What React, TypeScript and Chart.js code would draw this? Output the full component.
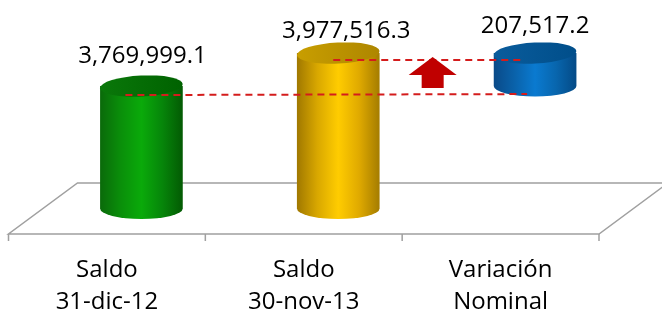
import React, { useEffect, useRef } from "react";
import { Chart, registerables } from "chart.js";

Chart.register(...registerables);

// ---- data ----
const categoryLines: string[][] = [
  ["Saldo", "31-dic-12"],
  ["Saldo", "30-nov-13"],
  ["Variación", "Nominal"],
];
const saldoInicial = 3769999.1;
const saldoFinal = 3977516.3;
const variacionNominal = 207517.2;
const valueLabels = ["3,769,999.1", "3,977,516.3", "207,517.2"];
const axisMin = 3000000;
const axisMax = 4000000;

// floating bars: [start, end]
const barRanges: [number, number][] = [
  [axisMin, saldoInicial],
  [axisMin, saldoFinal],
  [saldoInicial, saldoInicial + variacionNominal],
];

// ---- styles ----
const bodyStops = [
  ["#0a6a0a", "#0a8f0a", "#0aaa0a", "#06860a", "#035a03"],
  ["#a07800", "#d9a800", "#ffcc00", "#e0aa00", "#a47c00"],
  ["#0a4a88", "#0a62aa", "#0a7ad0", "#0866ae", "#044a86"],
];
const topStops = [
  ["#0a780a", "#006200"],
  ["#c89e00", "#ae8600"],
  ["#0a5c9c", "#004e8a"],
];
const DEPTH_X = 34.5;
const DEPTH_Y = 25.5;
const ELL_RY = 10.5;
const FONT = "24px 'Open Sans'";
const labelDy = [23, 15, 20];
const labelDx = [1, 8, 0];

const chart3d = {
  id: "chart3d",
  afterDatasetsDraw(chart: any) {
    const ctx: CanvasRenderingContext2D = chart.ctx;
    const xs = chart.scales.x;
    const ys = chart.scales.y;
    const area = chart.chartArea;
    const meta = chart.getDatasetMeta(0);
    const baseY = ys.getPixelForValue(axisMin);
    const n = categoryLines.length;
    const catW = (area.right - area.left) / n;

    ctx.save();
    // floor
    const fl = area.left - DEPTH_X, fr = area.right - DEPTH_X, fy = baseY + DEPTH_Y;
    const bl = area.left + DEPTH_X, br = area.right + DEPTH_X, by = baseY - DEPTH_Y;
    ctx.strokeStyle = "#a0a0a0";
    ctx.lineWidth = 1.5;
    ctx.beginPath();
    ctx.moveTo(fl, fy); ctx.lineTo(fr, fy); ctx.lineTo(br, by); ctx.lineTo(bl, by); ctx.closePath();
    ctx.stroke();
    // ticks
    ctx.beginPath();
    for (let i = 0; i <= n; i++) {
      const tx = xs.getPixelForValue(i) - catW / 2 - DEPTH_X;
      ctx.moveTo(tx, fy); ctx.lineTo(tx, fy + 7);
    }
    ctx.stroke();

    // category labels
    ctx.fillStyle = "#000";
    ctx.font = FONT;
    ctx.textAlign = "center";
    ctx.textBaseline = "alphabetic";
    categoryLines.forEach((lines, i) => {
      const cx = xs.getPixelForValue(i) - DEPTH_X;
      lines.forEach((t, j) => ctx.fillText(t, cx, fy + 43 + j * 32));
    });

    // cylinders
    meta.data.forEach((el: any, i: number) => {
      const cx = el.x, rx = el.width / 2, top = el.y, bot = el.base;
      const g = ctx.createLinearGradient(cx - rx, 0, cx + rx, 0);
      bodyStops[i].forEach((c, k) => g.addColorStop(k / (bodyStops[i].length - 1), c));
      ctx.fillStyle = g;
      ctx.beginPath();
      ctx.moveTo(cx - rx, top);
      ctx.lineTo(cx - rx, bot);
      ctx.ellipse(cx, bot, rx, ELL_RY, 0, Math.PI, 0, true);
      ctx.lineTo(cx + rx, top);
      ctx.closePath();
      ctx.fill();
      const tg = ctx.createLinearGradient(cx - rx, 0, cx + rx, 0);
      tg.addColorStop(0, topStops[i][0]);
      tg.addColorStop(1, topStops[i][1]);
      ctx.fillStyle = tg;
      ctx.beginPath();
      ctx.ellipse(cx, top, rx, ELL_RY, -0.05, 0, Math.PI * 2);
      ctx.fill();
    });

    // dashed connectors
    const yIni = ys.getPixelForValue(saldoInicial);
    const yFin = ys.getPixelForValue(saldoFinal);
    const g0 = meta.data[0], g1 = meta.data[1], g2 = meta.data[2];
    ctx.strokeStyle = "#d41c1c";
    ctx.lineWidth = 2;
    ctx.setLineDash([7, 5]);
    ctx.beginPath();
    ctx.moveTo(g0.x - 16, yIni + 9); ctx.lineTo(g2.x - 8, yIni + 8);
    ctx.moveTo(g1.x - 5, yFin + 7); ctx.lineTo(g2.x - 11, yFin + 7);
    ctx.stroke();
    ctx.setLineDash([]);

    // arrow
    const ax = (g1.x + g2.x) / 2 - 4;
    const tip = yFin + 4, headB = tip + 18, ab = yIni + 2;
    ctx.fillStyle = "#c00000";
    ctx.beginPath();
    ctx.moveTo(ax, tip);
    ctx.lineTo(ax + 24, headB);
    ctx.lineTo(ax + 11, headB);
    ctx.lineTo(ax + 11, ab);
    ctx.lineTo(ax - 11, ab);
    ctx.lineTo(ax - 11, headB);
    ctx.lineTo(ax - 24, headB);
    ctx.closePath();
    ctx.fill();

    // value labels
    ctx.fillStyle = "#000";
    ctx.font = FONT;
    ctx.textAlign = "center";
    meta.data.forEach((el: any, i: number) => {
      ctx.fillText(valueLabels[i], el.x + labelDx[i], el.y - labelDy[i]);
    });
    ctx.restore();
  },
};

export default function App() {
  const ref = useRef<HTMLCanvasElement | null>(null);
  useEffect(() => {
    document.body.style.margin = "0";
    const c = new Chart(ref.current as HTMLCanvasElement, {
      type: "bar",
      data: {
        labels: categoryLines.map((l) => l.join(" ")),
        datasets: [
          {
            data: barRanges as any,
            backgroundColor: "rgba(0,0,0,0)",
            borderWidth: 0,
            barPercentage: 0.42,
            categoryPercentage: 1,
          },
        ],
      },
      options: {
        responsive: false,
        maintainAspectRatio: false,
        animation: false,
        devicePixelRatio: 1,
        layout: { padding: { left: 43, right: 28.5, top: 49.5, bottom: 103.5 } },
        plugins: { legend: { display: false }, tooltip: { enabled: false } },
        scales: {
          x: { display: false, offset: true },
          y: { display: false, min: axisMin, max: axisMax },
        },
      },
      plugins: [chart3d],
    });
    return () => c.destroy();
  }, []);
  return <canvas ref={ref} width={662} height={312} style={{ display: "block" }} />;
}
